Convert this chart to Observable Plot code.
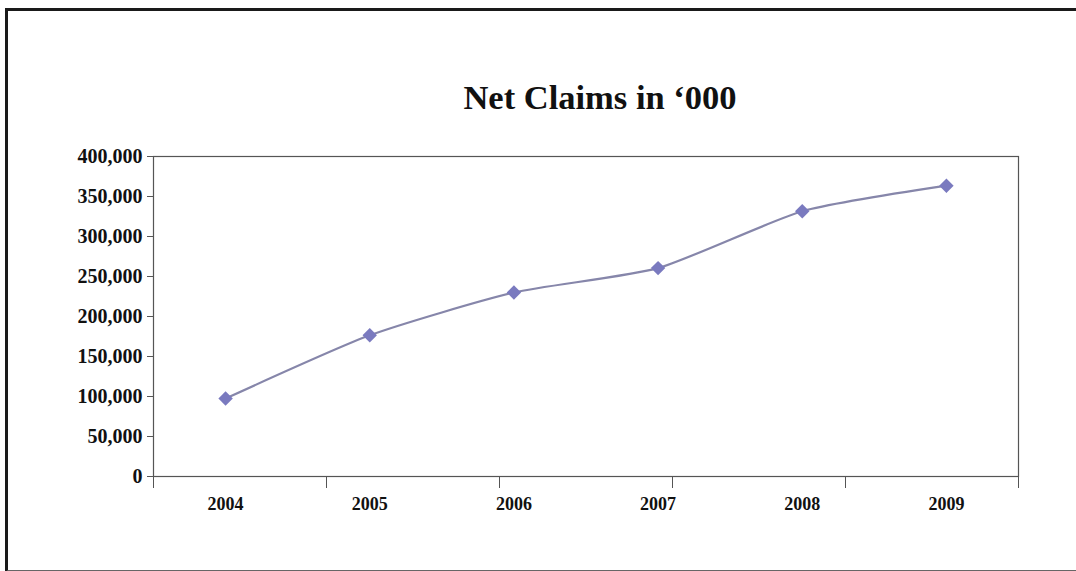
<!DOCTYPE html>
<html>
<head>
<meta charset="utf-8">
<script src="https://cdn.jsdelivr.net/npm/d3@7"></script>
<script src="https://cdn.jsdelivr.net/npm/@observablehq/plot@0.6"></script>
<style>
  html, body { margin: 0; padding: 0; background: #fff; }
  #wrap { position: relative; width: 1076px; height: 571px; overflow: hidden; }
  #border { position: absolute; left: 5px; top: 8px; width: 1100px; height: 559px;
            border-left: 3px solid #1a1a1a; border-top: 3px solid #1a1a1a; border-bottom: 2px solid #666; }
  #title { position: absolute; left: 600px; top: 80px; transform: translateX(-50%);
           font-family: "Liberation Serif", serif; font-weight: bold; font-size: 34.5px; line-height: 34px;
           color: #111; white-space: nowrap; }
  #chart { position: absolute; left: 0; top: 0; }
</style>
</head>
<body>
<div id="wrap">
  <div id="border"></div>
  <div id="title">Net Claims in ‘000</div>
  <div id="chart"></div>
</div>
<script>
const years = ["2004", "2005", "2006", "2007", "2008", "2009"];
const netClaims = [97500, 176500, 230000, 260500, 331500, 363500];
const yTicks = [0, 50000, 100000, 150000, 200000, 250000, 300000, 350000, 400000];

const data = years.map((y, i) => ({year: y, idx: i + 0.5, value: netClaims[i]}));
const n = years.length;
const tickMarks = d3.range(n).map(i => i * n / (n - 1));

const chart = Plot.plot({
  width: 1076,
  height: 571,
  marginLeft: 153,
  marginRight: 58,
  marginTop: 156,
  marginBottom: 95,
  style: {fontFamily: "Liberation Serif, serif", fontWeight: "bold", fontSize: "18px", color: "#111", background: "transparent"},
  x: {type: "linear", domain: [0, n], axis: null},
  y: {domain: [0, 400000], axis: null},
  marks: [
    Plot.frame({stroke: "#555", strokeWidth: 1.2}),
    Plot.axisY({ticks: yTicks, tickFormat: d3.format(","), tickSize: 6, tickPadding: 5, stroke: "#555", fontSize: 20, label: null}),
    Plot.axisX({ticks: tickMarks, tickFormat: () => "", tickSize: 12, stroke: "#555", label: null}),
    Plot.axisX({ticks: data.map(d => d.idx), tickFormat: v => years[Math.round(v - 0.5)], tickSize: 0, tickPadding: 21, fontSize: 18, label: null}),
    Plot.line(data, {x: "idx", y: "value", curve: "cardinal", tension: 0.4, stroke: "#8686aa", strokeWidth: 2.2}),
    Plot.dot(data, {x: "idx", y: "value", symbol: "diamond2", r: 6.5, fill: "#7a7abf", stroke: "none"})
  ]
});
document.getElementById("chart").appendChild(chart);
</script>
</body>
</html>
